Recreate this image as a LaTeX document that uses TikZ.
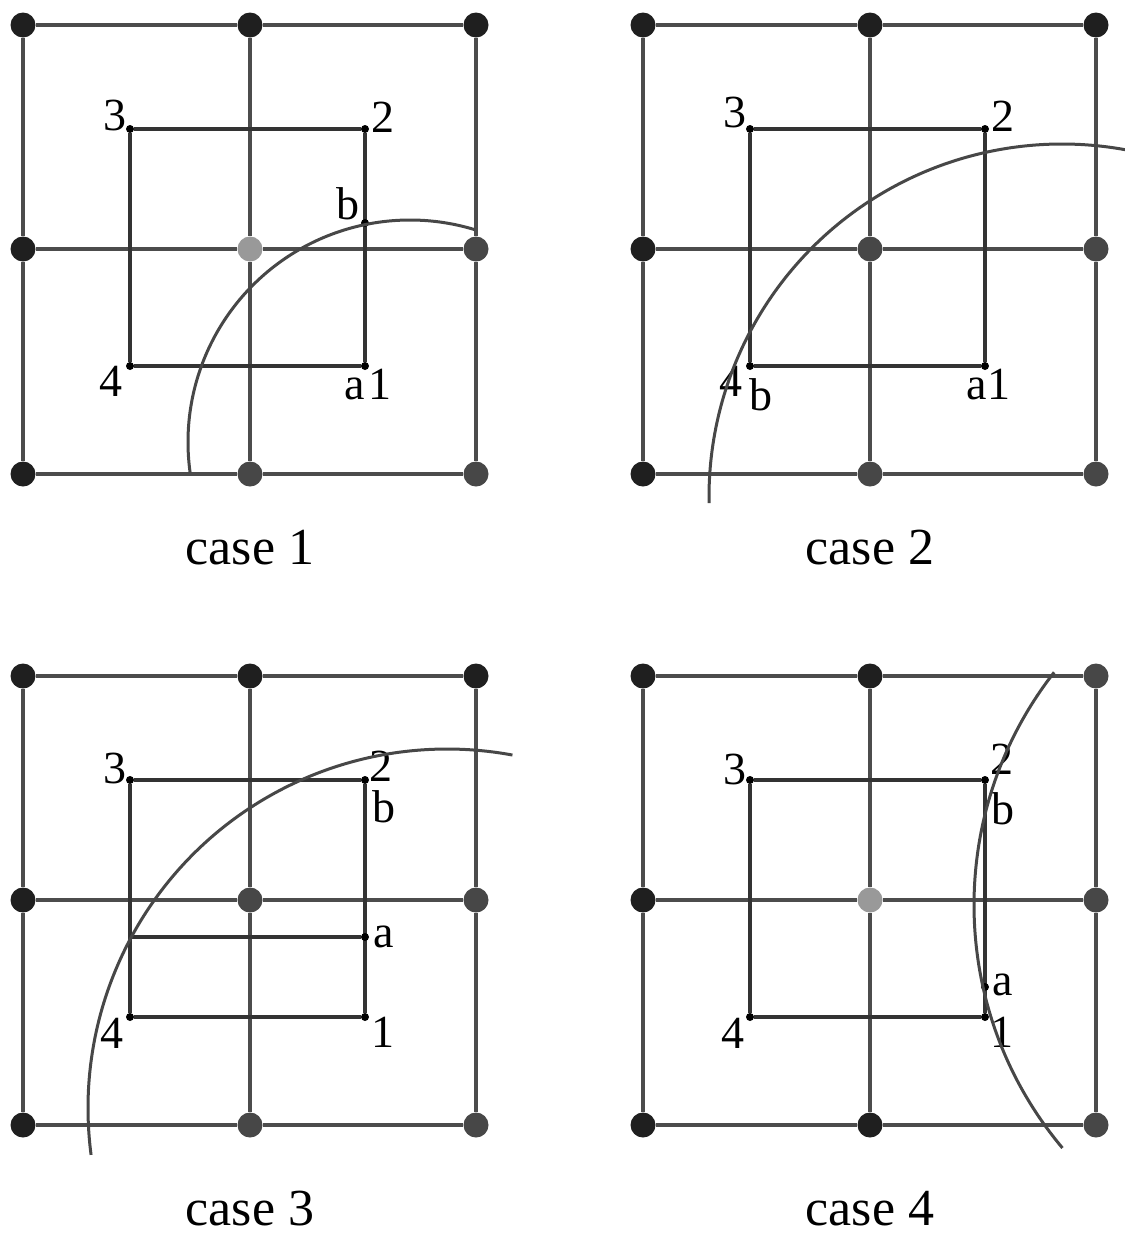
\documentclass[tikz,border=0pt]{standalone}
\usepackage{fontspec}
\setmainfont{Liberation Serif}
\pgfdeclarelayer{bg}
\pgfsetlayers{bg,main}
\definecolor{dotk}{gray}{0.12}
\definecolor{dotd}{gray}{0.28}
\definecolor{dotl}{gray}{0.6}
\definecolor{gridc}{gray}{0.3}
\tikzset{
  gdot/.style={circle,inner sep=0pt,minimum size=25pt},
  sdot/.style={circle,fill=black,inner sep=0pt,minimum size=8pt},
  gline/.style={gridc,line width=4.2pt},
  iline/.style={black!80,line width=3.5pt},
  curve/.style={black!72,line width=3pt},
  lab/.style={font=\fontsize{46}{46}\selectfont,inner sep=0pt},
  captext/.style={font=\fontsize{52}{52}\selectfont,inner sep=0pt}
}
\begin{document}
\begin{tikzpicture}[x=1pt,y=-1pt]
\useasboundingbox (0,0) rectangle (1125,1235);
% the four panels: grid, inner square, caption
\foreach \p/\ox/\oy/\tr/\mc/\mr/\bm/\br/\cy in {1/0/0/dotk/dotl/dotd/dotd/dotd/548,2/620/0/dotk/dotd/dotd/dotd/dotd/548,3/0/651/dotk/dotd/dotd/dotd/dotd/558,4/620/651/dotd/dotl/dotd/dotk/dotd/558}{
  \begin{scope}[shift={(\ox,\oy)}]
  \node[gdot,fill=dotk] (g\p-00) at (23,25) {};
  \node[gdot,fill=dotk] (g\p-10) at (250,25) {};
  \node[gdot,fill=\tr] (g\p-20) at (476,25) {};
  \node[gdot,fill=dotk] (g\p-01) at (23,249) {};
  \node[gdot,fill=\mc] (g\p-11) at (250,249) {};
  \node[gdot,fill=\mr] (g\p-21) at (476,249) {};
  \node[gdot,fill=dotk] (g\p-02) at (23,474) {};
  \node[gdot,fill=\bm] (g\p-12) at (250,474) {};
  \node[gdot,fill=\br] (g\p-22) at (476,474) {};
  \node[sdot] (q\p-1) at (365,366) {};
  \node[sdot] (q\p-2) at (365,129) {};
  \node[sdot] (q\p-3) at (130,129) {};
  \node[sdot] (q\p-4) at (130,366) {};
  \node[captext] (cap\p) at (250,\cy) {case \p};
  \begin{pgfonlayer}{bg}
    \foreach \j in {0,1,2}{
      \draw[gline] (g\p-0\j) -- (g\p-1\j) -- (g\p-2\j);
      \draw[gline] (g\p-\j0) -- (g\p-\j1) -- (g\p-\j2);}
    \draw[iline] (q\p-1) -- (q\p-2) -- (q\p-3) -- (q\p-4) -- (q\p-1);
  \end{pgfonlayer}
  \end{scope}}
% case 1
\node[sdot] (b1) at (365,223) {};
\node[lab] (l1-3) at (115,115) {3};
\node[lab] (l1-2) at (383,117) {2};
\node[lab] (l1-b) at (348,204) {b};
\node[lab] (l1-4) at (111,381) {4};
\node[lab] (l1-a) at (355,389) {a};
\node[lab] (l1-1) at (380,384) {1};
\draw[curve] (410,442) ++(172:222) arc[start angle=172,end angle=287,radius=222];
% case 2
\node[lab] (l2-3) at (735,112) {3};
\node[lab] (l2-2) at (1003,116) {2};
\node[lab] (l2-4) at (731,381) {4};
\node[lab] (l2-b) at (761,395) {b};
\node[lab] (l2-a) at (977,389) {a};
\node[lab] (l2-1) at (999,384) {1};
\draw[curve] (1062,497) ++(179:353) arc[start angle=179,end angle=281,radius=353];
% case 3
\node[sdot] (a3) at (365,937) {};
\coordinate (a3l) at (130,937);
\begin{pgfonlayer}{bg}\draw[iline] (a3l) -- (a3);\end{pgfonlayer}
\node[lab] (l3-3) at (115,768) {3};
\node[lab] (l3-2) at (381,766) {2};
\node[lab] (l3-b) at (384,807) {b};
\node[lab] (l3-a) at (384,937) {a};
\node[lab] (l3-4) at (112,1033) {4};
\node[lab] (l3-1) at (383,1032) {1};
\draw[curve] (447,1108) ++(172.5:359) arc[start angle=172.5,end angle=280.5,radius=359];
% case 4
\node[sdot] (a4) at (985,987) {};
\node[lab] (l4-3) at (735,769) {3};
\node[lab] (l4-2) at (1002,759) {2};
\node[lab] (l4-b) at (1003,809) {b};
\node[lab] (l4-a) at (1003,985) {a};
\node[lab] (l4-4) at (733,1033) {4};
\node[lab] (l4-1) at (1002,1032) {1};
\draw[curve] (1352,905) ++(140:378) arc[start angle=140,end angle=218,radius=378];
\end{tikzpicture}
\end{document}
